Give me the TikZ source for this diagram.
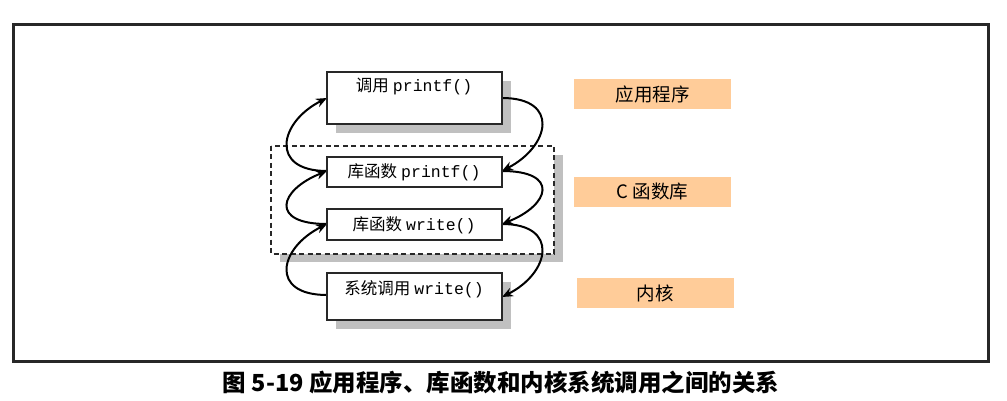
\documentclass[tikz,border=0pt]{standalone}
\usepackage{fontspec}
\setmainfont{Liberation Serif}
\newfontfamily\cjk{Noto Sans CJK SC}
\newfontfamily\mono{Liberation Mono}
\usetikzlibrary{arrows.meta}
\definecolor{labelfill}{RGB}{255,204,153}
\definecolor{shadowgray}{RGB}{192,192,192}
\definecolor{framegray}{RGB}{40,40,40}
\tikzset{
  funcbox/.style={draw=framegray, line width=2pt, fill=white},
  labelbox/.style={fill=labelfill, draw=none, minimum width=157pt, minimum height=30pt, inner sep=0pt, font=\fontsize{18.5}{20}\cjk},
  boxtext/.style={inner sep=0pt, font=\fontsize{16.5}{18}\selectfont},
  callarrow/.style={line width=2pt, -{Stealth[length=11pt,width=9pt]}},
}
\begin{document}
\begin{tikzpicture}[x=1pt,y=-1pt]
\useasboundingbox (0,0) rectangle (1007,401);
% outer frame
\draw[framegray, line width=3pt] (13,25) rectangle (988,361);
% shadows
\fill[shadowgray] (336,81) rectangle (511,133);
\fill[shadowgray] (336,282) rectangle (511,329);
\fill[shadowgray] (280,155) rectangle (563,262);
% dashed group
\draw[framegray, line width=1.6pt, dash pattern=on 5pt off 3.5pt, fill=white] (271,146) rectangle (554,254);
% coordinates for connector ends
\coordinate (b1r) at (502,98);
\coordinate (b2r) at (502,171);
\coordinate (b3r) at (502,224);
\coordinate (b4r) at (502,297);
\coordinate (b1l) at (327,98);
\coordinate (b2l) at (327,171);
\coordinate (b3l) at (327,224);
\coordinate (b4l) at (327,295);
% right side curves (downwards)
\draw[callarrow] (b1r) .. controls (560,98) and (550,146) .. (b2r);
\draw[callarrow] (b2r) .. controls (560,171) and (550,205) .. (b3r);
\draw[callarrow] (b3r) .. controls (560,224) and (550,273) .. (b4r);
% left side curves (upwards)
\draw[callarrow] (b4l) .. controls (269,295) and (279,248) .. (b3l);
\draw[callarrow] (b3l) .. controls (269,224) and (279,190) .. (b2l);
\draw[callarrow] (b2l) .. controls (269,171) and (279,122) .. (b1l);
% boxes
\draw[funcbox] (327,72) rectangle (502,124);
\draw[funcbox] (327,157) rectangle (502,187);
\draw[funcbox] (327,209) rectangle (502,240);
\draw[funcbox] (327,273) rectangle (502,320);
\node[boxtext] (t1) at (414,86) {{\cjk 调用} {\mono printf()}};
\node[boxtext] (t2) at (414,172) {{\cjk 库函数} {\mono printf()}};
\node[boxtext] (t3) at (414,225) {{\cjk 库函数} {\mono write()}};
\node[boxtext] (t4) at (414,289) {{\cjk 系统调用} {\mono write()}};
% labels
\node[labelbox] (l1) at (652.5,94) {应用程序};
\node[labelbox] (l2) at (652.5,192) {C 函数库};
\node[labelbox] (l3) at (655,293) {内核};
% caption
\node[inner sep=0pt, font=\fontsize{23.5}{25}\cjk\bfseries] (cap) at (501,383) {图 5-19 应用程序、库函数和内核系统调用之间的关系};
\end{tikzpicture}
\end{document}
